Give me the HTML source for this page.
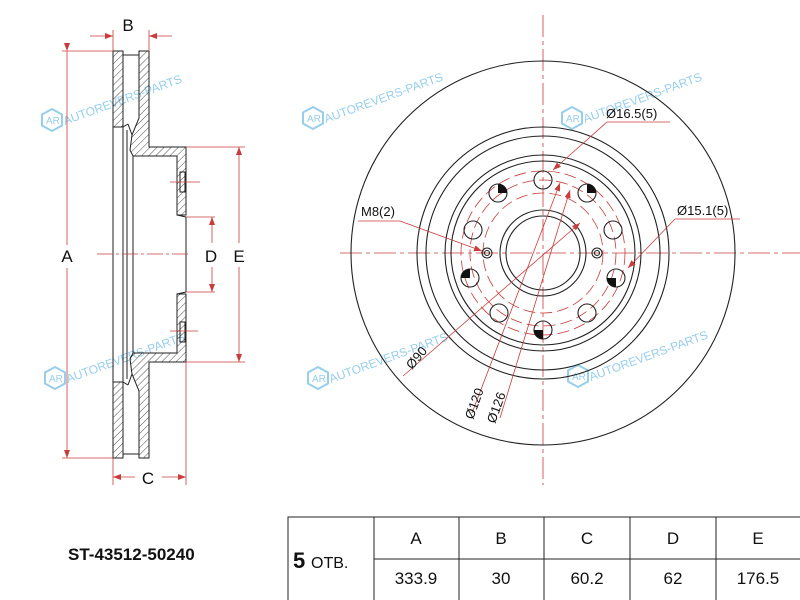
<!DOCTYPE html>
<html><head><meta charset="utf-8"><style>
html,body{margin:0;padding:0;background:#fff;width:800px;height:600px;overflow:hidden}
svg{display:block;font-family:"Liberation Sans",Arial,sans-serif}
</style></head><body>
<svg width="800" height="600" viewBox="0 0 800 600" xmlns="http://www.w3.org/2000/svg">
<defs>
<pattern id="h" patternUnits="userSpaceOnUse" width="5" height="5" patternTransform="rotate(45)">
<line x1="0" y1="0" x2="0" y2="5" stroke="#222" stroke-width="0.8"/>
</pattern>
<marker id="ar" markerWidth="8" markerHeight="6" refX="8" refY="3" orient="auto" markerUnits="userSpaceOnUse">
<path d="M0,0 L8,3 L0,6 z" fill="#c83c3c"/></marker>
<g id="wm" fill="none" stroke="#7ec3e8" stroke-width="2" opacity="0.8">
<path d="M0,-11 L10,-5.5 L10,5.5 L0,11 L-10,5.5 L-10,-5.5 Z"/>
<text x="-6" y="4" font-size="10" fill="#7ec3e8" stroke="none">AR</text>
<text x="13" y="5" font-size="12" fill="#7ec3e8" stroke="none" transform="rotate(-20 13 5)">AUTOREVERS-PARTS</text>
</g>
</defs>

<!-- watermarks -->
<use href="#wm" x="52" y="120"/>
<use href="#wm" x="313" y="118"/>
<use href="#wm" x="572" y="118"/>
<use href="#wm" x="55" y="378"/>
<use href="#wm" x="318" y="378"/>
<use href="#wm" x="578" y="376"/>

<!-- SIDE VIEW -->
<g stroke="#222" stroke-width="1" fill="url(#h)">
<rect x="113" y="51" width="10" height="76"/>
<rect x="113" y="382" width="10" height="76"/>
<path d="M139,51 L149,51 L149,147 L186,147 L186,215 L177,215 L177,156 L133,156 L130,150 L132,135 L139,118 Z"/>
<path d="M139,458 L149,458 L149,362 L186,362 L186,294 L177,294 L177,353 L133,353 L130,359 L132,374 L139,391 Z"/>
</g>
<g stroke="#222" stroke-width="1" fill="none">
<line x1="113" y1="127" x2="113" y2="382"/>
<line x1="123" y1="127" x2="123" y2="382"/>
<line x1="127" y1="130" x2="127" y2="379"/>
<line x1="133" y1="156" x2="133" y2="353"/>
<line x1="123" y1="55" x2="139" y2="55"/><line x1="123" y1="454" x2="139" y2="454"/>
<line x1="123" y1="127" x2="128" y2="124"/><line x1="128" y1="124" x2="132" y2="135"/>
<line x1="123" y1="382" x2="128" y2="385"/><line x1="128" y1="385" x2="132" y2="374"/>
<line x1="177" y1="215" x2="186" y2="217"/><line x1="186" y1="217" x2="186" y2="292"/>
<line x1="177" y1="294" x2="186" y2="292"/>
<rect x="180" y="172" width="5" height="20"/>
<rect x="180" y="322" width="5" height="20"/>
</g>
<g stroke="#c83c3c" stroke-width="0.8" fill="none">
<line x1="97" y1="254" x2="190" y2="254" stroke-dasharray="16,3,3,3"/>
<line x1="170" y1="182" x2="200" y2="182"/><line x1="170" y1="331" x2="198" y2="331"/>
<!-- A -->
<line x1="62" y1="51" x2="113" y2="51"/><line x1="62" y1="458" x2="113" y2="458"/>
<line x1="67" y1="51" x2="67" y2="245" marker-start="url(#ar)"/>
<line x1="67" y1="268" x2="67" y2="458" marker-end="url(#ar)"/>
<!-- B -->
<line x1="113" y1="30" x2="113" y2="51"/><line x1="149" y1="30" x2="149" y2="51"/>
<line x1="90" y1="36" x2="113" y2="36" marker-end="url(#ar)"/>
<line x1="172" y1="36" x2="149" y2="36" marker-end="url(#ar)"/>
<!-- C -->
<line x1="113" y1="458" x2="113" y2="485"/><line x1="186" y1="362" x2="186" y2="485"/>
<line x1="135" y1="477" x2="113" y2="477" marker-end="url(#ar)"/>
<line x1="162" y1="477" x2="186" y2="477" marker-end="url(#ar)"/>
<!-- D -->
<line x1="186" y1="217" x2="215" y2="217"/><line x1="186" y1="292" x2="215" y2="292"/>
<line x1="212" y1="243" x2="212" y2="217" marker-end="url(#ar)"/>
<line x1="212" y1="267" x2="212" y2="292" marker-end="url(#ar)"/>
<!-- E -->
<line x1="186" y1="147" x2="245" y2="147"/><line x1="186" y1="362" x2="245" y2="362"/>
<line x1="239" y1="243" x2="239" y2="147" marker-end="url(#ar)"/>
<line x1="239" y1="267" x2="239" y2="362" marker-end="url(#ar)"/>
</g>
<g font-size="17" fill="#111" text-anchor="middle">
<text x="128" y="31">B</text>
<text x="67" y="262">A</text>
<text x="148" y="484">C</text>
<text x="211" y="262">D</text>
<text x="239" y="262">E</text>
</g>

<!-- FRONT VIEW -->
<g stroke="#c83c3c" stroke-width="0.8" fill="none" stroke-dasharray="22,4,4,4">
<line x1="340" y1="253" x2="800" y2="253"/>
<line x1="543" y1="15" x2="543" y2="485"/>
</g>
<g stroke="#c83c3c" stroke-width="0.8" fill="none" stroke-dasharray="12,5">
<circle cx="543" cy="253" r="73"/>
<circle cx="543" cy="253" r="60"/>
<circle cx="543" cy="253" r="82"/>
</g>
<g stroke="#222" stroke-width="1.1" fill="none">
<circle cx="543" cy="253" r="192"/>
<circle cx="543" cy="253" r="126"/>
<circle cx="543" cy="253" r="117"/>
<circle cx="543" cy="253" r="98"/>
<circle cx="543" cy="253" r="92"/>
<circle cx="543" cy="253" r="43"/>
<circle cx="543" cy="253" r="37"/>
<circle cx="543" cy="180" r="9"/>
<circle cx="498" cy="193" r="9"/>
<circle cx="587" cy="193" r="9"/>
<circle cx="473" cy="230" r="9"/>
<circle cx="613" cy="230" r="9"/>
<circle cx="470" cy="278" r="9"/>
<circle cx="616" cy="278" r="9"/>
<circle cx="499" cy="313" r="9"/>
<circle cx="587" cy="313" r="9"/>
<circle cx="543" cy="330" r="9"/>
<circle cx="487" cy="253" r="5"/><circle cx="487" cy="253" r="2.5"/>
<circle cx="597" cy="253" r="5"/><circle cx="597" cy="253" r="2.5"/>
</g>
<g fill="#111">
<path d="M498,193 L498,184 A9,9 0 0 1 507,193 Z"/>
<path d="M587,193 L596,193 A9,9 0 0 0 587,184 Z"/>
<path d="M470,278 L461,278 A9,9 0 0 1 470,269 Z"/>
<path d="M616,278 L616,287 A9,9 0 0 1 607,278 Z"/>
<path d="M543,330 L543,339 A9,9 0 0 1 534,330 Z"/>
</g>
<g stroke="#c83c3c" stroke-width="0.8" fill="none">
<line x1="607" y1="122" x2="670" y2="122"/>
<line x1="607" y1="122" x2="553" y2="170" marker-end="url(#ar)"/>
<line x1="675" y1="219" x2="740" y2="219"/>
<line x1="675" y1="219" x2="628" y2="268" marker-end="url(#ar)"/>
<line x1="358" y1="221" x2="400" y2="221"/>
<line x1="400" y1="221" x2="482" y2="251" marker-end="url(#ar)"/>
<line x1="403" y1="376" x2="580" y2="223" marker-end="url(#ar)"/>
<line x1="472" y1="413" x2="560" y2="183" marker-end="url(#ar)"/>
<line x1="500" y1="418" x2="570" y2="190" marker-end="url(#ar)"/>
</g>
<g font-size="13" fill="#111">
<text x="606" y="118">Ø16.5(5)</text>
<text x="677" y="215">Ø15.1(5)</text>
<text x="361" y="216">M8(2)</text>
<text x="412" y="370" transform="rotate(-50 412 370)">Ø90</text>
<text x="473" y="420" transform="rotate(-70 473 420)">Ø120</text>
<text x="495" y="424" transform="rotate(-70 495 424)">Ø126</text>
</g>

<!-- TABLE -->
<g stroke="#222" stroke-width="1" fill="none">
<rect x="288" y="517" width="520" height="90"/>
<line x1="374" y1="517" x2="374" y2="600"/>
<line x1="459" y1="517" x2="459" y2="600"/>
<line x1="544" y1="517" x2="544" y2="600"/>
<line x1="630" y1="517" x2="630" y2="600"/>
<line x1="716" y1="517" x2="716" y2="600"/>
<line x1="374" y1="559" x2="800" y2="559"/>
</g>
<g font-size="17" fill="#111" text-anchor="middle">
<text x="416" y="544">A</text><text x="501" y="544">B</text><text x="587" y="544">C</text><text x="673" y="544">D</text><text x="758" y="544">E</text>
<text x="416" y="584">333.9</text><text x="501" y="584">30</text><text x="587" y="584">60.2</text><text x="673" y="584">62</text><text x="758" y="584">176.5</text>
</g>
<text x="293" y="568" font-size="22" font-weight="bold" fill="#111">5</text>
<text x="311" y="568" font-size="16" fill="#111">ОТВ.</text>
<text x="68" y="560" font-size="17" font-weight="bold" fill="#111">ST-43512-50240</text>
</svg>
</body></html>
